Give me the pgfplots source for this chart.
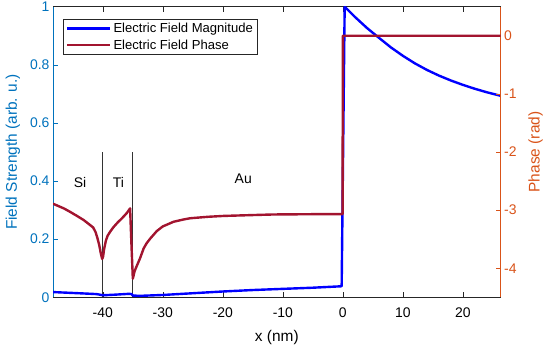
\documentclass[border=0pt]{standalone}
\usepackage{fontspec}
\setmainfont{Liberation Sans}
\usepackage{pgfplots}
\pgfplotsset{compat=1.18}
\definecolor{mblue}{RGB}{0,114,189}
\definecolor{morange}{RGB}{217,83,25}
\definecolor{mred}{RGB}{162,20,47}
\definecolor{axgray}{RGB}{38,38,38}
\begin{document}
\begin{tikzpicture}
\pgfplotsset{
 common/.style={
  width=447.7bp, height=290.6bp, scale only axis,
  xmin=-48.3, xmax=26.3,
  /pgf/number format/assume math mode=true,
  tick label style={font=\fontsize{14}{16}\selectfont},
  label style={font=\fontsize{15.5}{17}\selectfont},
  major tick length=5bp,
  xtick={-40,-30,-20,-10,0,10,20},
  axis line style={line width=0.6bp},
  every tick/.style={line width=0.6bp},
 }
}
\begin{axis}[common,
  ymin=0, ymax=1, ytick={0,0.2,0.4,0.6,0.8,1},
  axis y line*=left,
  x axis line style={axgray},
  xtick style={axgray},
  xticklabel style={yshift=-7bp},
  y axis line style={mblue}, ytick style={mblue},
  yticklabel style={mblue},
  xlabel={x (nm)}, ylabel={Field Strength (arb. u.)},
  xlabel style={at={([yshift=-40bp]axis description cs:0.5,0)}, anchor=center},
  ylabel style={at={([xshift=-40.2bp]axis description cs:0,0.5)}, anchor=center, mblue},
]
\coordinate (SW) at (rel axis cs:0,0);
\coordinate (NE) at (rel axis cs:1,1);
\addplot[black!80, line width=0.7bp] coordinates {(-40,0) (-40,0.5)};
\addplot[black!80, line width=0.7bp] coordinates {(-35,0) (-35,0.5)};
\node[font=\fontsize{14}{16}\selectfont] at (axis cs:-43.8,0.396) {Si};
\node[font=\fontsize{14}{16}\selectfont] at (axis cs:-37.4,0.396) {Ti};
\node[font=\fontsize{14}{16}\selectfont] at (axis cs:-16.6,0.407) {Au};
\addplot[blue, line width=2.4bp, line join=round] coordinates {
(-48.3,0.018) (-44,0.014) (-41,0.011) (-40,0.007) (-38,0.009) (-35.6,0.012)
(-35.2,0.011) (-35,0.006) (-33.8,0.005) (-30,0.008) (-25,0.014) (-20,0.020)
(-15,0.025) (-11.3,0.028) (-5,0.033) (-0.2,0.038) (0.3,1.0) (2,0.965)
(4,0.927) (5.65,0.899) (8,0.860) (10,0.831) (12,0.805) (14,0.7825)
(16,0.763) (18,0.746) (20,0.731) (22,0.7175) (24,0.7055) (26.3,0.6933)
};
\end{axis}
\begin{axis}[common,
  ymin=-4.5, ymax=0.5, ytick={-4,-3,-2,-1,0},
  axis y line*=right, axis x line=none,
  y axis line style={morange}, ytick style={morange},
  yticklabel style={morange},
  ylabel={Phase (rad)},
  ylabel style={at={([xshift=34.8bp]axis description cs:1,0.5)}, anchor=center, morange},
  legend style={at={(0.022,0.958)}, anchor=north west, draw=axgray,
    font=\fontsize{13.1}{15}\selectfont, line width=0.6bp,
    /tikz/every even column/.append style={column sep=2bp},
    row sep=1.5bp},
  legend cell align=left,
  legend image code/.code={\draw[#1] (0bp,0bp) -- (43bp,0bp);},
]
\addlegendimage{blue, line width=2.4bp}
\addlegendentry{Electric Field Magnitude}
\addplot[mred, line width=2.4bp, line join=round] coordinates {
(-48.3,-2.89) (-46.5,-2.97) (-45.45,-3.03) (-44.3,-3.10) (-43.2,-3.17)
(-42.2,-3.25) (-41.6,-3.30) (-41.2,-3.38) (-40.9,-3.48) (-40.6,-3.60)
(-40.3,-3.76) (-40.1,-3.84) (-39.95,-3.80) (-39.8,-3.68) (-39.5,-3.53)
(-39.2,-3.44) (-38.7,-3.36) (-38.2,-3.29) (-37.5,-3.21) (-36.8,-3.14)
(-36.0,-3.05) (-35.45,-2.97) (-35.3,-3.40) (-35.0,-4.18) (-34.7,-4.05)
(-34.3,-3.95) (-33.8,-3.83) (-33.2,-3.66) (-32.7,-3.57) (-32.1,-3.49)
(-31.0,-3.36) (-30.0,-3.28) (-28.2,-3.20) (-26.5,-3.16) (-25.45,-3.14)
(-22.5,-3.115) (-19.9,-3.10) (-15.0,-3.085) (-11.6,-3.075) (-5,-3.07)
(-0.05,-3.07) (0,0) (26.3,0)
};
\addlegendentry{Electric Field Phase}
\end{axis}
\pgfresetboundingbox
\path ([xshift=-53bp,yshift=-50.7bp]SW) rectangle ([xshift=49.3bp,yshift=6.7bp]NE);
\end{tikzpicture}
\end{document}
